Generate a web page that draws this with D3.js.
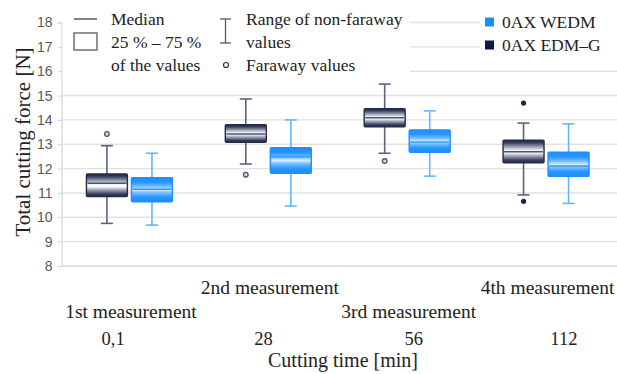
<!DOCTYPE html>
<html>
<head>
<meta charset="utf-8">
<script src="https://cdn.jsdelivr.net/npm/d3@7"></script>
<style>
  html, body { margin: 0; padding: 0; background: #fff; }
  svg { display: block; }
</style>
</head>
<body>
<svg id="chart" width="617" height="374"></svg>
<script>
// Cutting-time categories and measurement labels
const cuttingTimes = ["0,1", "28", "56", "112"];
const measurements = ["1st measurement", "2nd measurement", "3rd measurement", "4th measurement"];
const seriesNames = ["0AX EDM–G", "0AX WEDM"];
const yTicks = [8, 9, 10, 11, 12, 13, 14, 15, 16, 17, 18];

// 0AX EDM–G box statistics [N]
const edmgMin    = [9.75, 12.19, 12.63, 10.92];
const edmgQ1     = [10.85, 13.08, 13.72, 12.24];
const edmgMedian = [11.40, 13.42, 14.09, 12.69];
const edmgQ3     = [11.78, 13.80, 14.46, 13.17];
const edmgMax    = [12.94, 14.86, 15.47, 13.87];
const edmgFaraway = [[13.42], [11.75], [12.31], []];
const edmgExtreme = [[], [], [], [14.69, 10.66]];

// 0AX WEDM box statistics [N]
const wedmMin    = [9.68, 10.46, 11.69, 10.57];
const wedmQ1     = [10.64, 11.81, 12.67, 11.68];
const wedmMedian = [11.15, 12.49, 13.09, 12.11];
const wedmQ3     = [11.63, 12.86, 13.59, 12.67];
const wedmMax    = [12.63, 14.00, 14.37, 13.84];
const wedmFaraway = [[], [], [], []];
const wedmExtreme = [[], [], [], []];

const serif = "'Liberation Serif', 'Times New Roman', serif";
const sans = "'Liberation Sans', Arial, sans-serif";

const svg = d3.select("#chart");
const plot = { left: 61.5, right: 617, top: 22.5, bottom: 266 };

const x0 = d3.scaleBand().domain(measurements).range([plot.left, plot.right]).paddingInner(0).paddingOuter(0);
const bw = x0.bandwidth();
const x1 = d3.scaleBand().domain(seriesNames)
  .range([bw / 2 - 44.5, bw / 2 + 41.5]).paddingInner(0.09).paddingOuter(0);
const y = d3.scaleLinear().domain([8, 18]).range([plot.bottom, plot.top]);

// Box fill gradients (cylinder-style shading)
const defs = svg.append("defs");
function gradient(id, stops) {
  const g = defs.append("linearGradient").attr("id", id)
    .attr("x1", 0).attr("y1", 0).attr("x2", 0).attr("y2", 1);
  stops.forEach(([o, c]) => g.append("stop").attr("offset", o).attr("stop-color", c));
}
gradient("gDark", [[0, "#1c2442"], [0.12, "#3a4260"], [0.3, "#9a9fb0"], [0.45, "#f2f2f4"],
  [0.55, "#ffffff"], [0.7, "#a0a5b5"], [0.88, "#3a4260"], [1, "#1c2442"]]);
gradient("gBlue", [[0, "#1a8cff"], [0.2, "#2a97ff"], [0.38, "#7cc0ff"], [0.5, "#d6ebff"],
  [0.62, "#7cc0ff"], [0.8, "#2a97ff"], [1, "#1a8cff"]]);

const styles = {
  "0AX EDM–G": { fill: "url(#gDark)", border: "#232c4c", median: "#4b5470", whisker: "#5a6482",
                 hollowStroke: "#4b5470", dot: "#1a2346", legend: "#0c1a4a" },
  "0AX WEDM":  { fill: "url(#gBlue)", border: "#1f8fff", median: "#3a9cf0", whisker: "#62b8ff",
                 hollowStroke: "#3a9cf0", dot: "#1f8fff", legend: "#1a8fff" }
};

// Gridlines
svg.append("g")
  .selectAll("line").data(yTicks).join("line")
  .attr("x1", plot.left).attr("x2", plot.right)
  .attr("y1", d => y(d)).attr("y2", d => y(d))
  .attr("stroke", "#e2e2e2").attr("stroke-width", 1.4);

// Y axis
const yAxis = svg.append("g").attr("transform", `translate(${plot.left},0)`)
  .call(d3.axisLeft(y).tickValues(yTicks).tickSize(4).tickPadding(5).tickFormat(d3.format("d")));
yAxis.select(".domain").attr("stroke", "#d4d4d4").attr("stroke-width", 1.2);
yAxis.selectAll(".tick line").attr("stroke", "#d4d4d4");
yAxis.selectAll(".tick text").attr("fill", "#595959").style("font-family", sans).style("font-size", "14px");

// Box plots
const series = [
  { name: "0AX EDM–G", min: edmgMin, q1: edmgQ1, med: edmgMedian, q3: edmgQ3, max: edmgMax,
    faraway: edmgFaraway, extreme: edmgExtreme },
  { name: "0AX WEDM", min: wedmMin, q1: wedmQ1, med: wedmMedian, q3: wedmQ3, max: wedmMax,
    faraway: wedmFaraway, extreme: wedmExtreme }
];
const boxW = x1.bandwidth();
const capW = 12;

const groups = svg.append("g").selectAll("g").data(measurements).join("g")
  .attr("transform", d => `translate(${x0(d)},0)`);

groups.each(function (m, i) {
  const g = d3.select(this);
  series.forEach(s => {
    const st = styles[s.name];
    const bx = x1(s.name);
    const cx = bx + boxW / 2;
    // whisker stems
    g.append("line").attr("x1", cx).attr("x2", cx)
      .attr("y1", y(s.max[i])).attr("y2", y(s.q3[i]))
      .attr("stroke", st.whisker).attr("stroke-width", 1.6);
    g.append("line").attr("x1", cx).attr("x2", cx)
      .attr("y1", y(s.q1[i])).attr("y2", y(s.min[i]))
      .attr("stroke", st.whisker).attr("stroke-width", 1.6);
    // caps
    [s.max[i], s.min[i]].forEach(v => {
      g.append("line").attr("x1", cx - capW / 2).attr("x2", cx + capW / 2)
        .attr("y1", y(v)).attr("y2", y(v))
        .attr("stroke", st.whisker).attr("stroke-width", 1.6);
    });
    // box
    g.append("rect").attr("x", bx).attr("y", y(s.q3[i]))
      .attr("width", boxW).attr("height", y(s.q1[i]) - y(s.q3[i]))
      .attr("fill", st.fill).attr("stroke", st.border).attr("stroke-width", 1.4)
      .attr("rx", 1);
    // median
    g.append("line").attr("x1", bx + 1).attr("x2", bx + boxW - 1)
      .attr("y1", y(s.med[i])).attr("y2", y(s.med[i]))
      .attr("stroke", st.median).attr("stroke-width", 1.5);
    // faraway values (hollow) and extreme values (filled)
    s.faraway[i].forEach(v => {
      g.append("circle").attr("cx", cx).attr("cy", y(v)).attr("r", 2.3)
        .attr("fill", "#d7dae2").attr("stroke", st.hollowStroke).attr("stroke-width", 1.3);
    });
    s.extreme[i].forEach(v => {
      g.append("circle").attr("cx", cx).attr("cy", y(v)).attr("r", 2.6)
        .attr("fill", st.dot);
    });
  });
});

// Bottom axis line
svg.append("line").attr("x1", plot.left).attr("x2", plot.right)
  .attr("y1", plot.bottom).attr("y2", plot.bottom)
  .attr("stroke", "#dedede").attr("stroke-width", 1.4);

// Measurement labels, staggered on two rows
svg.append("g").selectAll("text").data(measurements).join("text")
  .attr("x", d => x0(d) + bw / 2)
  .attr("y", (d, i) => i % 2 === 1 ? 287 : 311)
  .attr("dy", "0.35em")
  .attr("text-anchor", "middle")
  .style("font-family", serif).style("font-size", "19.5px").attr("fill", "#222")
  .text(d => d);

// Cutting time tick labels
const xTime = d3.scaleBand().domain(cuttingTimes).range([38, 639]);
svg.append("g").selectAll("text").data(cuttingTimes).join("text")
  .attr("x", d => xTime(d) + xTime.bandwidth() / 2)
  .attr("y", 339).attr("dy", "0.35em")
  .attr("text-anchor", "middle")
  .style("font-family", serif).style("font-size", "18.5px").attr("fill", "#222")
  .text(d => d);

// Axis titles
svg.append("text").attr("x", 343).attr("y", 360).attr("dy", "0.35em")
  .attr("text-anchor", "middle")
  .style("font-family", serif).style("font-size", "20px").attr("fill", "#222")
  .text("Cutting time [min]");

svg.append("text")
  .attr("transform", "translate(23,142) rotate(-90)")
  .attr("dy", "0.35em").attr("text-anchor", "middle")
  .style("font-family", serif).style("font-size", "21px").attr("fill", "#222")
  .text("Total cutting force [N]");

// Box-plot key (top left)
const key = svg.append("g");
key.append("rect").attr("x", plot.left + 1).attr("y", 0).attr("width", 410 - plot.left - 1).attr("height", 78)
  .attr("fill", "#fff");
const keyText = (x, yy, t) => key.append("text").attr("x", x).attr("y", yy).attr("dy", "0.35em")
  .style("font-family", serif).style("font-size", "17.5px").attr("fill", "#222").text(t);
key.append("line").attr("x1", 74).attr("x2", 97).attr("y1", 19).attr("y2", 19)
  .attr("stroke", "#595959").attr("stroke-width", 1.5);
key.append("rect").attr("x", 74).attr("y", 33).attr("width", 23).attr("height", 17)
  .attr("fill", "none").attr("stroke", "#595959").attr("stroke-width", 1.3);
keyText(111, 19, "Median");
keyText(111, 42, "25 % – 75 %");
keyText(111, 65, "of the values");
key.append("line").attr("x1", 225.5).attr("x2", 225.5).attr("y1", 19).attr("y2", 43)
  .attr("stroke", "#595959").attr("stroke-width", 1.3);
[19, 43].forEach(v => key.append("line").attr("x1", 220).attr("x2", 231).attr("y1", v).attr("y2", v)
  .attr("stroke", "#595959").attr("stroke-width", 1.3));
key.append("circle").attr("cx", 226).attr("cy", 65).attr("r", 2.5)
  .attr("fill", "none").attr("stroke", "#333").attr("stroke-width", 1.2);
keyText(246, 19, "Range of non-faraway");
keyText(246, 42, "values");
keyText(246, 65, "Faraway values");

// Series legend (top right)
const legend = svg.append("g");
legend.append("rect").attr("x", 480).attr("y", 0).attr("width", 137).attr("height", 58).attr("fill", "#fff");
const legendOrder = ["0AX WEDM", "0AX EDM–G"];
legendOrder.forEach((name, i) => {
  const yy = 22 + i * 23;
  legend.append("rect").attr("x", 485).attr("y", yy - 4.5).attr("width", 9).attr("height", 9)
    .attr("fill", styles[name].legend);
  legend.append("text").attr("x", 502).attr("y", yy).attr("dy", "0.35em")
    .style("font-family", serif).style("font-size", "17.5px").attr("fill", "#222").text(name);
});
</script>
</body>
</html>
